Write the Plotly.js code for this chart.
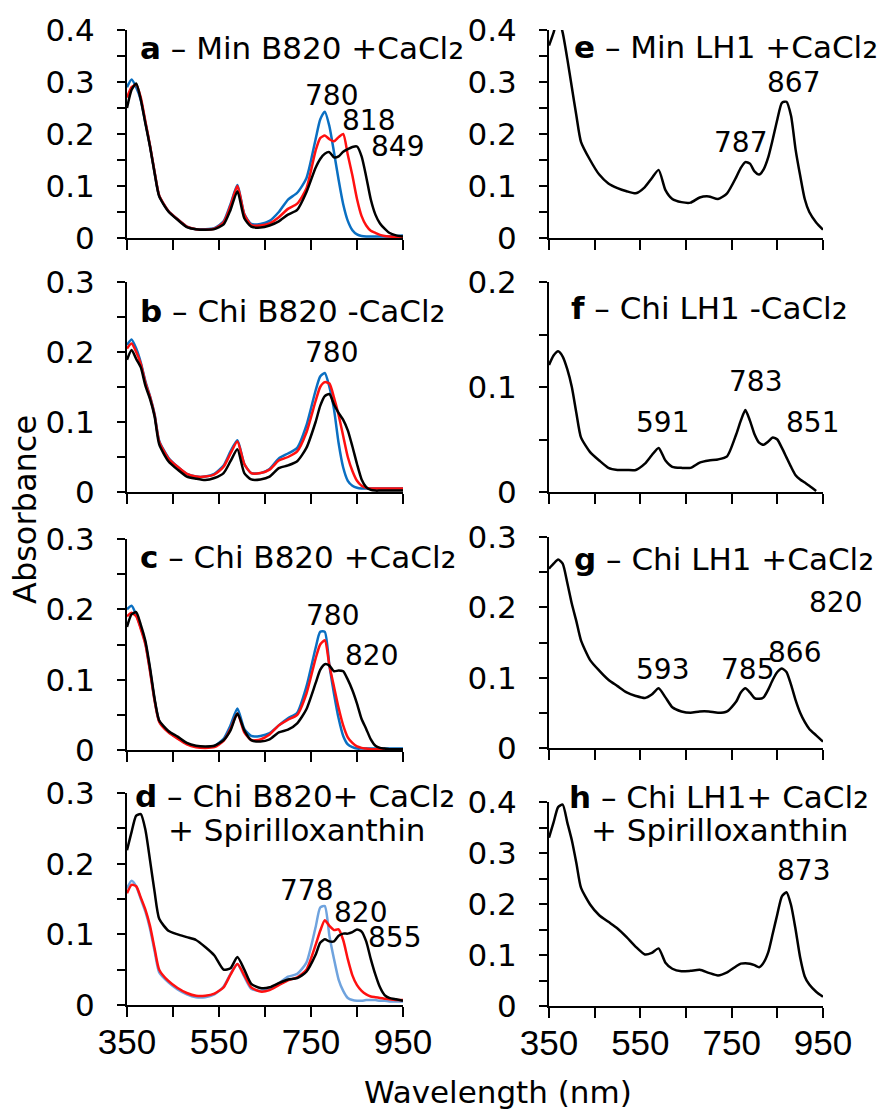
<!DOCTYPE html>
<html>
<head>
<meta charset="utf-8">
<script src="https://cdn.plot.ly/plotly-3.0.1.min.js"></script>
<style>
html,body{margin:0;padding:0;background:#fff;}
#chart{width:883px;height:1112px;}
</style>
</head>
<body>
<div id="chart"></div>
<script>
// ---------------- DATA ----------------
const WL = [350,360,370,380,390,400,410,420,440,460,480,500,520,540,560,575,590,605,620,640,660,680,700,720,740,760,770,780,790,800,810,820,830,840,850,860,870,880,890,900,910,920,935,950];

// a – Min B820 +CaCl2
const aBlue  = [0.29,0.305,0.29,0.265,0.222,0.177,0.126,0.081,0.052,0.036,0.022,0.017,0.017,0.019,0.032,0.065,0.102,0.046,0.027,0.027,0.033,0.05,0.074,0.087,0.115,0.19,0.228,0.243,0.215,0.165,0.112,0.065,0.033,0.015,0.007,0.004,0.003,0.003,0.003,0.003,0.003,0.003,0.004,0.005];
const aRed   = [0.27,0.29,0.295,0.27,0.224,0.178,0.127,0.082,0.052,0.036,0.022,0.017,0.016,0.018,0.03,0.062,0.1,0.045,0.025,0.024,0.028,0.04,0.056,0.066,0.095,0.168,0.192,0.197,0.19,0.186,0.194,0.2,0.16,0.12,0.075,0.042,0.024,0.014,0.01,0.006,0.004,0.003,0.002,0.002];
const aBlack = [0.25,0.285,0.297,0.266,0.22,0.176,0.125,0.08,0.051,0.035,0.021,0.017,0.016,0.017,0.026,0.054,0.09,0.038,0.022,0.02,0.024,0.032,0.045,0.054,0.088,0.135,0.152,0.162,0.165,0.155,0.157,0.166,0.171,0.175,0.176,0.157,0.118,0.074,0.045,0.028,0.018,0.01,0.005,0.003];

// b – Chi B820 -CaCl2
const bBlue  = [0.21,0.218,0.205,0.185,0.158,0.137,0.111,0.073,0.049,0.036,0.026,0.022,0.022,0.026,0.038,0.058,0.074,0.04,0.027,0.027,0.033,0.048,0.055,0.063,0.095,0.145,0.165,0.17,0.15,0.118,0.07,0.035,0.016,0.009,0.006,0.005,0.005,0.005,0.005,0.005,0.005,0.005,0.005,0.005];
const bRed   = [0.205,0.212,0.2,0.183,0.156,0.136,0.11,0.072,0.048,0.036,0.026,0.022,0.022,0.025,0.036,0.055,0.072,0.04,0.027,0.027,0.032,0.045,0.05,0.058,0.085,0.13,0.15,0.157,0.155,0.135,0.11,0.08,0.05,0.03,0.016,0.009,0.006,0.005,0.005,0.005,0.005,0.005,0.005,0.005];
const bBlack = [0.189,0.203,0.19,0.178,0.152,0.133,0.108,0.068,0.044,0.032,0.022,0.019,0.017,0.02,0.027,0.044,0.061,0.027,0.018,0.018,0.022,0.034,0.038,0.044,0.063,0.1,0.123,0.137,0.14,0.125,0.113,0.103,0.088,0.065,0.04,0.018,0.007,0.003,0.002,0.002,0.002,0.002,0.002,0.002];

// c – Chi B820 +CaCl2
const cBlue  = [0.2,0.205,0.192,0.174,0.152,0.114,0.071,0.041,0.026,0.017,0.009,0.005,0.004,0.006,0.016,0.035,0.059,0.03,0.02,0.02,0.024,0.035,0.045,0.053,0.09,0.145,0.168,0.168,0.12,0.08,0.045,0.02,0.008,0.004,0.002,0.002,0.002,0.002,0.002,0.002,0.002,0.002,0.002,0.002];
const cRed   = [0.19,0.195,0.19,0.172,0.15,0.112,0.07,0.04,0.025,0.016,0.008,0.004,0.003,0.004,0.013,0.03,0.052,0.025,0.014,0.015,0.022,0.035,0.043,0.05,0.08,0.13,0.15,0.156,0.12,0.09,0.06,0.035,0.018,0.01,0.005,0.003,0.002,0.001,0.001,0.001,0.001,0.001,0.001,0.001];
const cBlack = [0.175,0.193,0.196,0.178,0.155,0.117,0.073,0.042,0.027,0.019,0.01,0.006,0.005,0.006,0.014,0.028,0.052,0.028,0.014,0.012,0.015,0.025,0.029,0.038,0.058,0.095,0.114,0.122,0.12,0.112,0.113,0.112,0.1,0.085,0.066,0.044,0.03,0.015,0.006,0.003,0.002,0.001,0.001,0.001];

// d – Chi B820 + CaCl2 + Spirilloxanthin
const dBlue  = [0.165,0.176,0.168,0.15,0.132,0.108,0.076,0.046,0.032,0.022,0.015,0.011,0.011,0.015,0.026,0.044,0.058,0.04,0.023,0.02,0.023,0.031,0.04,0.044,0.06,0.11,0.138,0.14,0.098,0.065,0.036,0.02,0.01,0.007,0.006,0.006,0.007,0.007,0.007,0.006,0.006,0.005,0.005,0.005];
const dRed   = [0.158,0.17,0.168,0.152,0.135,0.112,0.08,0.05,0.034,0.024,0.017,0.013,0.013,0.016,0.025,0.043,0.058,0.042,0.025,0.019,0.021,0.028,0.035,0.039,0.05,0.085,0.105,0.12,0.112,0.106,0.107,0.092,0.065,0.042,0.028,0.02,0.015,0.012,0.011,0.01,0.009,0.008,0.007,0.007];
const dBlack = [0.219,0.245,0.268,0.27,0.248,0.205,0.16,0.122,0.105,0.1,0.096,0.092,0.082,0.07,0.05,0.052,0.068,0.05,0.03,0.024,0.025,0.031,0.036,0.038,0.047,0.071,0.088,0.093,0.09,0.09,0.098,0.101,0.101,0.103,0.107,0.104,0.09,0.065,0.043,0.025,0.014,0.01,0.008,0.006];

// e – Min LH1 +CaCl2
const eBlack = [0.37,0.395,0.425,0.395,0.345,0.29,0.235,0.185,0.15,0.122,0.105,0.096,0.09,0.086,0.098,0.115,0.131,0.092,0.075,0.069,0.068,0.078,0.08,0.075,0.086,0.117,0.135,0.146,0.143,0.128,0.122,0.132,0.155,0.19,0.228,0.26,0.262,0.235,0.17,0.12,0.075,0.05,0.03,0.016];
// f – Chi LH1 -CaCl2
const fBlack = [0.121,0.13,0.134,0.129,0.117,0.1,0.075,0.052,0.038,0.03,0.023,0.021,0.021,0.021,0.027,0.035,0.042,0.03,0.024,0.023,0.023,0.028,0.03,0.031,0.034,0.055,0.068,0.078,0.068,0.055,0.047,0.045,0.048,0.052,0.05,0.042,0.033,0.024,0.016,0.012,0.009,0.006,0.001,null];
// g – Chi LH1 +CaCl2
const gBlack = [0.255,0.262,0.268,0.262,0.235,0.205,0.18,0.153,0.125,0.11,0.097,0.088,0.079,0.074,0.071,0.076,0.085,0.072,0.058,0.052,0.05,0.052,0.052,0.05,0.052,0.066,0.079,0.085,0.079,0.071,0.07,0.072,0.083,0.097,0.108,0.113,0.108,0.09,0.068,0.05,0.037,0.027,0.018,0.009];
// h – Chi LH1 + CaCl2 + Spirilloxanthin
const hBlack = [0.33,0.36,0.39,0.395,0.36,0.325,0.28,0.232,0.199,0.178,0.165,0.152,0.135,0.116,0.101,0.104,0.113,0.085,0.073,0.068,0.069,0.071,0.065,0.06,0.066,0.078,0.083,0.084,0.083,0.08,0.076,0.085,0.105,0.142,0.18,0.215,0.223,0.198,0.15,0.095,0.058,0.042,0.028,0.018];

const xTickVals = [350,550,750,950];
const xTickText = ['350','550','750','950'];
const yMax = {a:0.4,b:0.3,c:0.3,d:0.3,e:0.4,f:0.2,g:0.3,h:0.4};

const SUB2 = '<span style="font-size:40px">₂</span>';
const panelTitles = {
  a:'<b>a</b> – Min B820 +CaCl' + SUB2,
  b:'<b>b</b> – Chi B820 -CaCl' + SUB2,
  c:'<b>c</b> – Chi B820 +CaCl' + SUB2,
  d:'<b>d</b> – Chi B820+ CaCl' + SUB2,
  d2:'+ Spirilloxanthin',
  e:'<b>e</b> – Min LH1 +CaCl' + SUB2,
  f:'<b>f</b> – Chi LH1 -CaCl' + SUB2,
  g:'<b>g</b> – Chi LH1 +CaCl' + SUB2,
  h:'<b>h</b> – Chi LH1+ CaCl' + SUB2,
  h2:'+ Spirilloxanthin'
};
const peakLabels = {
  a:['780','818','849'], b:['780'], c:['780','820'], d:['778','820','855'],
  e:['867','787'], f:['783','591','851'], g:['820','593','785','866'], h:['873']
};

// ---------------- LAYOUT ----------------
const W = 883, H = 1112;
const BLUE = '#0a6fc2', RED = '#ff1010', BLACK = '#000000', LBLUE = '#6fa3de';
const FONT = 'DejaVu Sans';

// panel geometry in pixels: [left, right, top(ymax), bottom(0)]
const geo = {
  a:[127,403,30,238], b:[127,403,282,492], c:[127,403,539,750], d:[127,403,793,1005],
  e:[549,823,30,238], f:[549,823,282,492], g:[549,823,537,748], h:[549,823,802,1006]
};
const axisIdx = {a:'',b:'2',c:'3',d:'4',e:'5',f:'6',g:'7',h:'8'};
const bottomRow = {d:true,h:true};

function yTicks(max){
  const v=[],t=[];
  for(let i=0;i<=Math.round(max/0.1);i++){
    v.push(+(i*0.1).toFixed(1));
    t.push(i===0?'0':(i*0.1).toFixed(1));
  }
  return {v,t};
}

const layout = {
  width:W, height:H, margin:{l:0,r:0,t:0,b:0},
  paper_bgcolor:'#ffffff', plot_bgcolor:'rgba(0,0,0,0)',
  showlegend:false, font:{family:FONT, color:'#000', size:28},
  annotations:[]
};

Object.keys(geo).forEach(p=>{
  const g = geo[p], k = axisIdx[p];
  const yt = yTicks(yMax[p]);
  layout['xaxis'+k] = {
    domain:[g[0]/W, g[1]/W], range:[350,950], anchor:'y'+k,
    showline:true, linecolor:'#000', linewidth:2,
    ticks:'outside', ticklen:10, tickwidth:2, tickcolor:'#000',
    tickmode:'array', tickvals:xTickVals, ticktext:xTickText,
    minor:{ticks:'outside', tickmode:'linear', tick0:350, dtick:100, ticklen:10, tickwidth:2, tickcolor:'#000', showgrid:false},
    showticklabels:!!bottomRow[p], ticklabelstandoff:-5,
    tickfont:{family:'Liberation Sans', size:35, color:'#000'},
    showgrid:false, zeroline:false, fixedrange:true
  };
  layout['yaxis'+k] = {
    domain:[1-g[3]/H, 1-g[2]/H], range:[0,yMax[p]], anchor:'x'+k,
    showline:true, linecolor:'#000', linewidth:2,
    ticks:'outside', ticklen:8, tickwidth:2, tickcolor:'#000',
    tickmode:'array', tickvals:yt.v, ticktext:yt.t, ticklabelstandoff:16,
    minor:{ticks:'outside', tickmode:'linear', tick0:0, dtick:0.05, ticklen:8, tickwidth:2, tickcolor:'#000', showgrid:false},
    tickfont:{family:FONT, size:31, color:'#000'},
    showgrid:false, zeroline:false, fixedrange:true
  };
});

// ---------------- TRACES ----------------
function tr(p, y, color){
  const k = axisIdx[p];
  return {x:WL, y:y, mode:'lines', xaxis:'x'+k, yaxis:'y'+k,
    line:{color:color, width:2.5, shape:'spline', smoothing:0.6},
    hoverinfo:'skip', showlegend:false};
}
const data = [
  tr('a',aBlue,BLUE), tr('a',aRed,RED), tr('a',aBlack,BLACK),
  tr('b',bBlue,BLUE), tr('b',bRed,RED), tr('b',bBlack,BLACK),
  tr('c',cBlue,BLUE), tr('c',cRed,RED), tr('c',cBlack,BLACK),
  tr('d',dBlue,LBLUE), tr('d',dRed,RED), tr('d',dBlack,BLACK),
  tr('e',eBlack,BLACK), tr('f',fBlack,BLACK), tr('g',gBlack,BLACK), tr('h',hBlack,BLACK)
];

// ---------------- TEXT ----------------
function ann(text, px, py, size, xanchor, extra){
  layout.annotations.push(Object.assign({
    text:text, x:px/W, y:1-py/H, xref:'paper', yref:'paper',
    xanchor:xanchor||'center', yanchor:'middle', showarrow:false,
    font:{family:FONT, size:size, color:'#000'}
  }, extra||{}));
}
// panel titles (left edge, cap centre)
ann(panelTitles.a, 138, 45, 31, 'left');
ann(panelTitles.b, 138, 308, 31, 'left');
ann(panelTitles.c, 138, 554, 31, 'left');
ann(panelTitles.d, 133, 793, 31, 'left');
ann(panelTitles.d2, 296, 830, 31, 'center');
ann(panelTitles.e, 572, 44, 31, 'left');
ann(panelTitles.f, 569, 305, 31, 'left');
ann(panelTitles.g, 572, 556, 31, 'left');
ann(panelTitles.h, 567, 794, 31, 'left');
ann(panelTitles.h2, 719, 830, 31, 'center');

// peak labels
const peakPos = {
  a:[[331,95],[368,120],[397,147]],
  b:[[331,352]],
  c:[[332,615],[371,655]],
  d:[[306,890],[360,912],[394,937]],
  e:[[793,83],[740,143]],
  f:[[755,382],[662,423],[812,422]],
  g:[[835,602],[662,669],[747,669],[794,652]],
  h:[[803,870]]
};
Object.keys(peakLabels).forEach(p=>{
  peakLabels[p].forEach((t,i)=>ann(t, peakPos[p][i][0], peakPos[p][i][1], 28, 'center'));
});

// axis titles
ann('Absorbance', 25, 510, 32, 'center', {textangle:-90});
ann('Wavelength (nm)', 498, 1092, 31, 'center');

Plotly.newPlot('chart', data, layout, {displayModeBar:false, staticPlot:true});
</script>
</body>
</html>
